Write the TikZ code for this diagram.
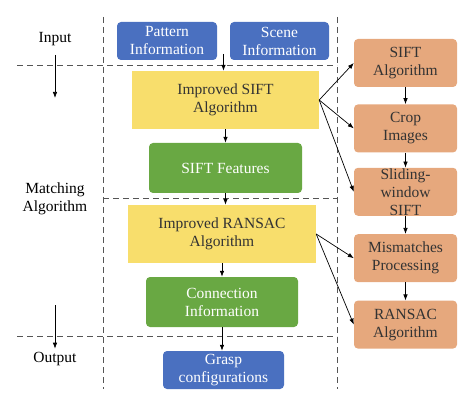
\documentclass[tikz,border=0pt]{standalone}
\usepackage{fontspec}
\setmainfont{Liberation Serif}
\usetikzlibrary{arrows.meta,positioning,calc}
\definecolor{gspblue}{HTML}{4A70C0}
\definecolor{gspyellow}{HTML}{F8DE6C}
\definecolor{gspgreen}{HTML}{69A843}
\definecolor{gsporange}{HTML}{E6A87D}
\definecolor{gspink}{HTML}{333333}
\definecolor{gspgray}{HTML}{555555}
\tikzset{
  gsp/.style={font=\fontsize{15.5}{18}\selectfont, text=gspink},
  gspbox/.style={rounded corners=4pt, align=center, inner sep=0pt},
  gspin/.style={gspbox, fill=gspblue, text=white},
  gspalg/.style={align=center, inner sep=0pt, fill=gspyellow},
  gspres/.style={gspbox, fill=gspgreen, text=white},
  gspstep/.style={gspbox, fill=gsporange, minimum width=103pt, minimum height=48pt},
  gsparr/.style={-{Latex[length=6pt,width=4.5pt]}, line width=0.7pt, draw=black},
  gspsep/.style={dashed, dash pattern=on 6pt off 4pt, line width=0.8pt, draw=gspgray},
  gsplbl/.style={align=center, text=black},
}

\begin{document}
\begin{tikzpicture}[gsp, x=1pt, y=-1pt]
  \useasboundingbox (0,0) rectangle (474,406);
  % stage separators
  \draw[gspsep] (103,17) -- (103,389);
  \draw[gspsep] (337,17) -- (337,389);
  \draw[gspsep] (17,65) -- (337,65);
  \draw[gspsep] (103,198) -- (337,198);
  \draw[gspsep] (17,336) -- (337,336);
  % stage labels
  \node[gsplbl] (inp) at (55,39) {Input};
  \node[gsplbl] (mat) at (55,199) {Matching\\Algorithm};
  \node[gsplbl] (out) at (55,359) {Output};
  \coordinate (inpend) at (55,98);
  \coordinate (outtop) at (55,305);
  \draw[gsparr] (inp.south |- 0,55) -- (inpend);
  \draw[gsparr] (outtop) -- (out.north);
  % main column
  \node[gspin, minimum width=100pt, minimum height=38pt] (pat) at (167,41) {Pattern\\Information};
  \node[gspin, minimum width=99pt, minimum height=38pt] (scn) at (279.5,41) {Scene\\Information};
  \node[gspalg, minimum width=187pt, minimum height=58pt] (isift) at (225.5,100) {Improved SIFT\\Algorithm};
  \node[gspres, minimum width=153pt, minimum height=50pt] (feat) at (225.5,168) {SIFT Features};
  \node[gspalg, minimum width=188pt, minimum height=58pt] (iran) at (222,234) {Improved RANSAC\\Algorithm};
  \node[gspres, minimum width=152pt, minimum height=50pt] (conn) at (222,302) {Connection\\Information};
  \node[gspin, minimum width=121pt, minimum height=38pt] (grasp) at (223.5,370) {Grasp\\configurations};
  \coordinate (inmid) at (223.5,54);
  % detail column
  \node[gspstep] (sift) at (405.5,63) {SIFT\\Algorithm};
  \node[gspstep, below=17pt of sift] (crop) {Crop\\Images};
  \node[gspstep, below=15pt of crop] (slide) {Sliding-\\window\\SIFT};
  \node[gspstep, below=18pt of slide] (mis) {Mismatches\\Processing};
  \node[gspstep, below=18pt of mis] (ran) {RANSAC\\Algorithm};
  \draw[gsparr] (inmid) -- (inmid |- isift.north);
  \draw[gsparr] (isift.south) -- (feat.north);
  \draw[gsparr] (feat.south) -- (feat.south |- iran.north);
  \draw[gsparr] (iran.south) -- (conn.north);
  \draw[gsparr] (conn.south) -- (conn.south |- grasp.north);
  \draw[gsparr] (sift) -- (crop);
  \draw[gsparr] (crop) -- (slide);
  \draw[gsparr] (slide) -- (mis);
  \draw[gsparr] (mis) -- (ran);
  \draw[gsparr] (isift.east) -- (sift.west);
  \draw[gsparr] (isift.east) -- (crop.west);
  \draw[gsparr] (isift.east) -- (slide.west);
  \draw[gsparr] (iran.east) -- (mis.west);
  \draw[gsparr] (iran.east) -- (ran.west);
\end{tikzpicture}
\end{document}
